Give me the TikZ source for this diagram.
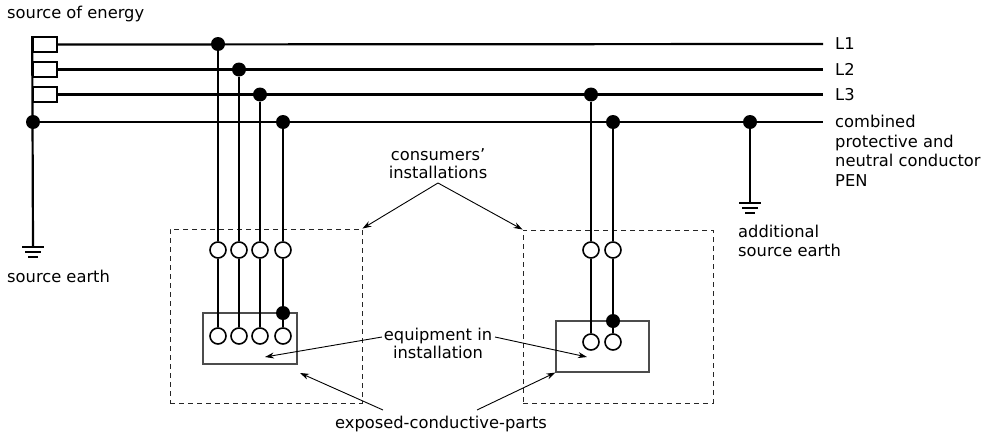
\documentclass[tikz,border=0pt]{standalone}
\usepackage{fontspec}
\setmainfont{DejaVu Sans}
\usetikzlibrary{arrows.meta,positioning}

\begin{document}
\begin{tikzpicture}
    [x=1pt,y=-1pt,
    wire/.style={line width=2.2pt},
    gnd/.style={line width=2pt},
    tap/.style={circle,fill=black,inner sep=0pt,minimum size=14pt},
    term/.style={circle,draw=black,line width=1.6pt,fill=white,
                 inner sep=0pt,minimum size=16pt},
    src/.style={rectangle,draw=black,line width=1.6pt,
                inner sep=0pt,minimum width=24pt,minimum height=15pt},
    inst/.style={rectangle,draw=black!85,line width=0.9pt,
                 dash pattern=on 5pt off 4pt,inner sep=0pt},
    equip/.style={rectangle,draw=black!70,line width=1.1pt,inner sep=0pt},
    note/.style={->,>={Stealth[length=9pt,width=6pt]},line width=0.9pt},
    txt/.style={font=\fontsize{16.3}{19.7}\selectfont,align=left,inner sep=0pt},
    ctxt/.style={font=\fontsize{16.3}{18}\selectfont,align=center,inner sep=0pt}]

    \useasboundingbox (0,0) rectangle (985,439);

    % source of energy
    \node[src] (srcA) at (45,44.5) {};
    \node[src] (srcB) at (45,69.5) {};
    \node[src] (srcC) at (45,94.5) {};
    \node[tap] (n0) at (33,122) {};
    \coordinate (g0) at (33,247);
    \node[txt,anchor=west] (energy) at (7,14) {source of energy};
    \node[txt,anchor=west] (srcearth) at (7,276) {source earth};

    % line ends
    \coordinate (e1) at (823,44);
    \coordinate (e2) at (823,69.5);
    \coordinate (e3) at (823,94.5);
    \coordinate (e4) at (823,122);
    \node[txt,right=12pt of e1] (lblA) {L1};
    \node[txt,right=12pt of e2] (lblB) {L2};
    \node[txt,right=12pt of e3] (lblC) {L3};
    \node[txt,anchor=north west] (lblPEN) at (835,115)
        {combined\\protective and\\neutral conductor\\PEN};

    \draw[wire] (srcA.north west) -- (g0);
    \draw[wire] (srcA.east) -- (e1);
    \draw[wire] (srcB.east) -- (e2);
    \draw[wire] (srcC.east) -- (e3);
    \draw[wire] (n0) -- (e4);
    \draw[gnd] (g0) ++(-11,0) -- ++(22,0) ++(-19,5) -- ++(16,0) ++(-13,5) -- ++(10,0);

    % additional source earth
    \node[tap] (tC) at (750,122) {};
    \coordinate (gC) at (750,203);
    \draw[wire] (tC) -- (gC);
    \draw[gnd] (gC) ++(-11,0) -- ++(22,0) ++(-19,5) -- ++(16,0) ++(-13,5) -- ++(10,0);
    \node[txt,anchor=west] (addearth) at (738,241) {additional\\source earth};

    % first installation
    \node[inst,minimum width=192pt,minimum height=174pt] (instA) at (266,316) {};
    \node[equip,minimum width=94pt,minimum height=51pt] (eqA) at (250,338.5) {};
    \node[tap] (tA1) at (218,44) {};
    \node[tap] (tA2) at (239,69.5) {};
    \node[tap] (tA3) at (260,94.5) {};
    \node[tap] (tA4) at (283,122) {};
    \node[term] (uA1) at (218,250) {};
    \node[term] (uA2) at (239,250) {};
    \node[term] (uA3) at (260,250) {};
    \node[term] (uA4) at (283,250) {};
    \node[tap] (kA) at (283,313) {};
    \node[term] (dA1) at (218,336) {};
    \node[term] (dA2) at (239,336) {};
    \node[term] (dA3) at (260,336) {};
    \node[term] (dA4) at (283,336) {};
    \draw[wire] (tA1) -- (uA1) -- (dA1);
    \draw[wire] (tA2) -- (uA2) -- (dA2);
    \draw[wire] (tA3) -- (uA3) -- (dA3);
    \draw[wire] (tA4) -- (uA4) -- (kA) -- (dA4);

    % second installation
    \node[inst,minimum width=190pt,minimum height=173pt] (instB) at (618,316.5) {};
    \node[equip,minimum width=93pt,minimum height=51pt] (eqB) at (602.5,346.5) {};
    \node[tap] (tB3) at (591,94.5) {};
    \node[tap] (tB4) at (613,122) {};
    \node[term] (uB3) at (591,250) {};
    \node[term] (uB4) at (613,250) {};
    \node[tap] (kB) at (613,321) {};
    \node[term] (dB3) at (591,342) {};
    \node[term] (dB4) at (613,342) {};
    \draw[wire] (tB3) -- (uB3) -- (dB3);
    \draw[wire] (tB4) -- (uB4) -- (kB) -- (dB4);

    % notes
    \node[ctxt] (cons) at (438,164) {consumers'\\installations};
    \coordinate (consTip) at (438,183);
    \draw[note] (consTip) -- (instA.north east);
    \draw[note] (consTip) -- (instB.north west);

    \node[ctxt] (equipLbl) at (438,343) {equipment in\\installation};
    \coordinate (eqL) at (382,337);
    \coordinate (eqR) at (495,337);
    \coordinate (eqAin) at (265,357);
    \coordinate (eqBin) at (587,357);
    \draw[note] (eqL) -- (eqAin);
    \draw[note] (eqR) -- (eqBin);

    \node[ctxt] (exposed) at (441,424) {exposed-conductive-parts};
    \coordinate (exL) at (383,410);
    \coordinate (exR) at (477,410);
    \coordinate (exA) at (300,373);
    \draw[note] (exL) -- (exA);
    \draw[note] (exR) -- (eqB.south west);
\end{tikzpicture}
\end{document}
